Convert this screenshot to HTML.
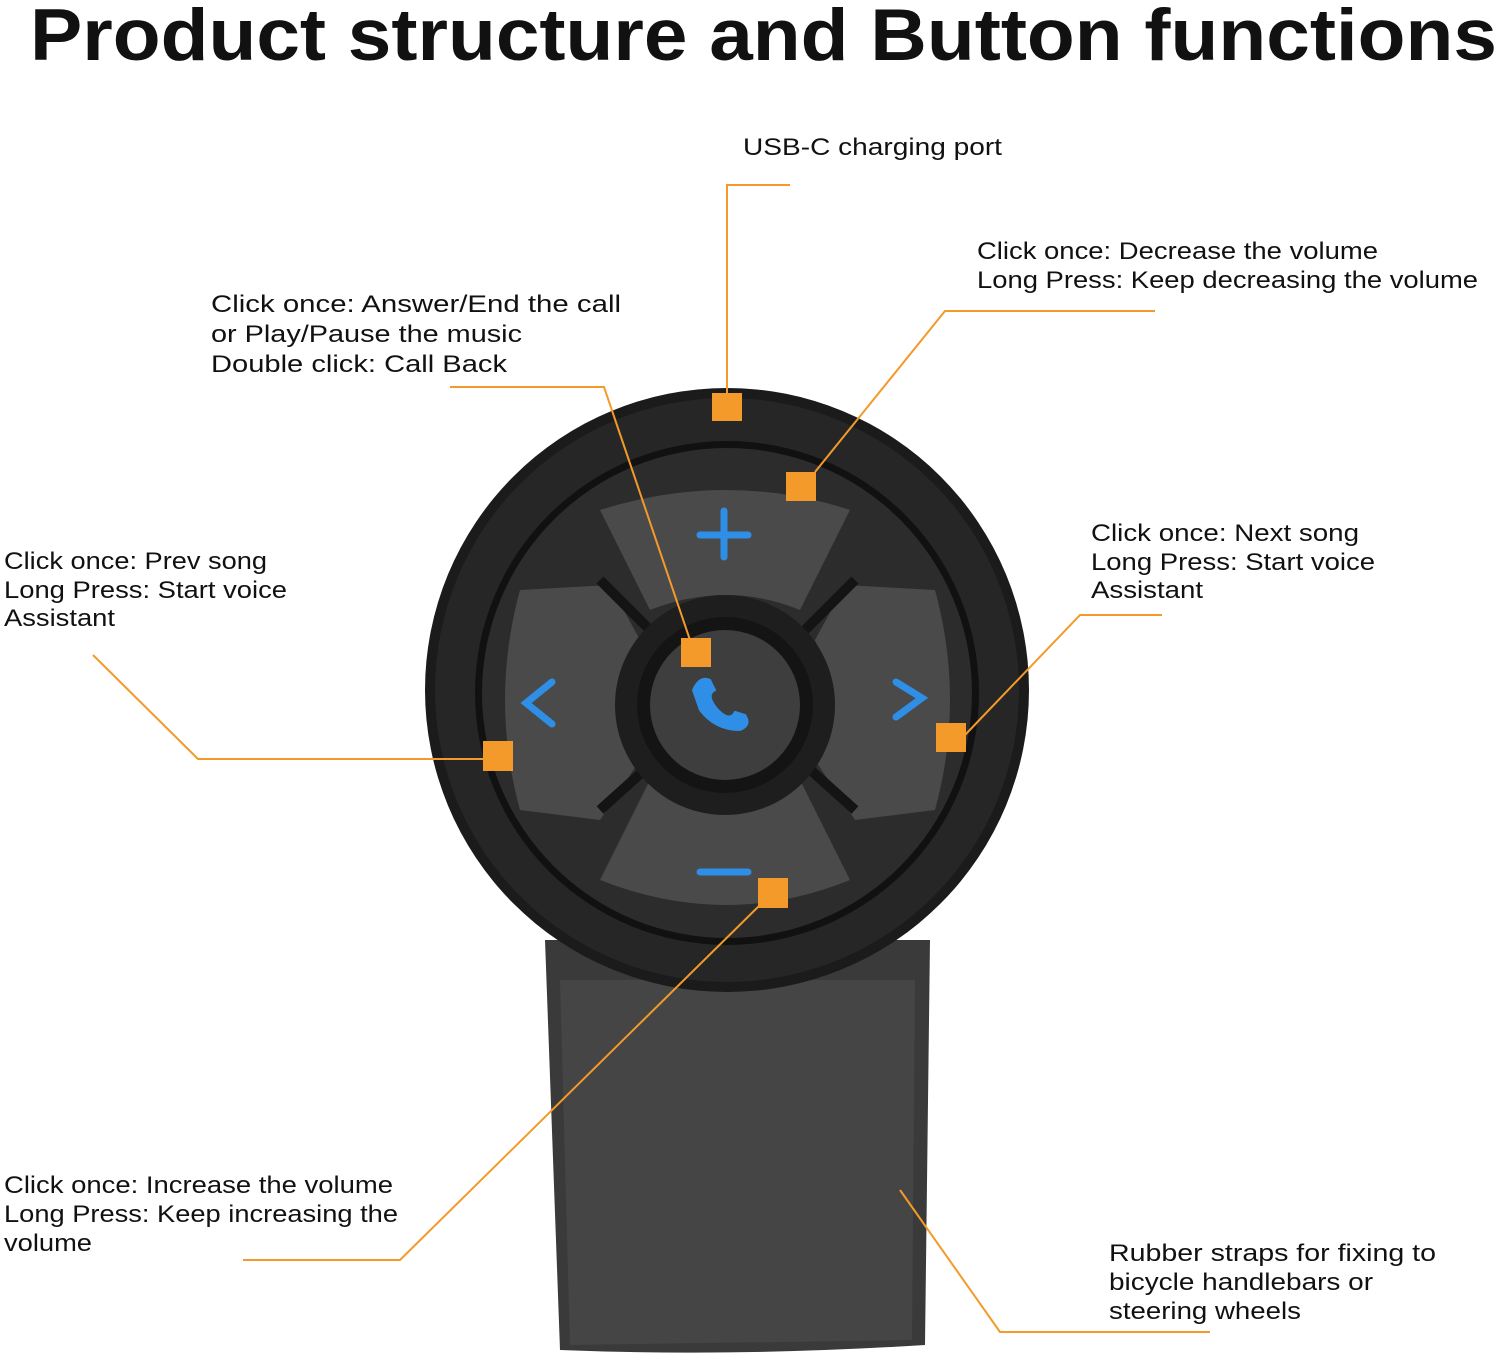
<!DOCTYPE html>
<html><head><meta charset="utf-8"><style>
html,body{margin:0;padding:0;background:#fff;}
svg{display:block}
text{font-family:"Liberation Sans",sans-serif;fill:#111}
</style></head><body>
<svg width="1500" height="1357" viewBox="0 0 1500 1357" xmlns="http://www.w3.org/2000/svg">
<rect width="1500" height="1357" fill="#fff"/>
<text x="30" y="60" font-size="73" font-weight="bold" textLength="1467" lengthAdjust="spacingAndGlyphs" fill="#000">Product structure and Button functions</text>

<!-- strap -->
<path d="M545 940 L930 940 L925 1345 Q735 1357 560 1350 Z" fill="#3a3a3a"/>
<path d="M560 980 L915 980 L912 1340 L570 1345 Z" fill="#454545"/>
<!-- device outer -->
<circle cx="727" cy="690" r="302" fill="#1b1b1b"/>
<circle cx="727" cy="690" r="292" fill="#262626"/>
<circle cx="727" cy="693" r="252" fill="#111"/>
<circle cx="727" cy="693" r="245" fill="#2c2c2c"/>
<!-- pads -->
<g fill="#4a4a4a">
<path d="M600 510 Q727 470 850 510 L800 610 Q727 580 650 610 Z"/>
<path d="M600 880 Q727 930 850 880 L800 780 Q727 810 650 780 Z"/>
<path d="M520 590 L610 585 L640 640 Q615 700 640 760 L600 820 L520 810 Q490 700 520 590Z"/>
<path d="M935 590 L845 585 L815 640 Q840 700 815 760 L855 820 L935 810 Q965 700 935 590Z"/>
</g>
<g stroke="#141414" stroke-width="10">
<line x1="600" y1="580" x2="650" y2="630"/><line x1="855" y1="580" x2="805" y2="630"/>
<line x1="600" y1="810" x2="650" y2="765"/><line x1="855" y1="810" x2="805" y2="765"/>
</g>
<circle cx="725" cy="705" r="110" fill="#1e1e1e"/>
<circle cx="725" cy="705" r="88" fill="#141414"/>
<circle cx="725" cy="705" r="75" fill="#3e3e3e"/>
<!-- icons -->
<g stroke="#2f8fe6" stroke-width="7" fill="none" stroke-linecap="round">
<line x1="700" y1="535" x2="748" y2="535"/><line x1="724" y1="511" x2="724" y2="557"/>
<line x1="700" y1="872" x2="748" y2="872"/>
<polyline points="552,682 526,703 552,724"/>
<polyline points="896,682 922,698 896,717"/>
<path d="M693 690 Q700 675 710 680 L715 690 Q705 695 718 710 Q730 722 735 712 L745 715 Q752 725 740 730 Q715 730 700 710 Z" fill="#2f8fe6" stroke-width="2"/>
</g>

<!-- leader lines -->
<g stroke="#f39a2b" stroke-width="2" fill="none">
<polyline points="790,185 727,185 727,395"/>
<polyline points="1155,311 945,311 815,472"/>
<polyline points="450,387 604,387 690,640"/>
<polyline points="93,655 198,759 484,759"/>
<polyline points="1162,615 1080,615 965,735"/>
<polyline points="243,1260 400,1260 760,905"/>
<polyline points="900,1190 1000,1332 1210,1332"/>
</g>
<g fill="#f39a2b">
<rect x="712" y="393" width="30" height="28"/>
<rect x="786" y="472" width="30" height="29"/>
<rect x="681" y="638" width="30" height="29"/>
<rect x="483" y="741" width="30" height="30"/>
<rect x="936" y="723" width="30" height="29"/>
<rect x="758" y="878" width="30" height="30"/>
</g>

<g font-size="24" lengthAdjust="spacingAndGlyphs">
<text x="743" y="155" textLength="259" lengthAdjust="spacingAndGlyphs">USB-C charging port</text>
<text x="977" y="259" textLength="401" lengthAdjust="spacingAndGlyphs">Click once: Decrease the volume</text>
<text x="977" y="288" textLength="501" lengthAdjust="spacingAndGlyphs">Long Press: Keep decreasing the volume</text>
<text x="211" y="312" textLength="410" lengthAdjust="spacingAndGlyphs">Click once: Answer/End the call</text>
<text x="211" y="342" textLength="311" lengthAdjust="spacingAndGlyphs">or Play/Pause the music</text>
<text x="211" y="372" textLength="296" lengthAdjust="spacingAndGlyphs">Double click: Call Back</text>
<text x="4" y="569" textLength="263" lengthAdjust="spacingAndGlyphs">Click once: Prev song</text>
<text x="4" y="598" textLength="283" lengthAdjust="spacingAndGlyphs">Long Press: Start voice</text>
<text x="4" y="626" textLength="111" lengthAdjust="spacingAndGlyphs">Assistant</text>
<text x="1091" y="541" textLength="268" lengthAdjust="spacingAndGlyphs">Click once: Next song</text>
<text x="1091" y="570" textLength="284" lengthAdjust="spacingAndGlyphs">Long Press: Start voice</text>
<text x="1091" y="598" textLength="112" lengthAdjust="spacingAndGlyphs">Assistant</text>
<text x="4" y="1193" textLength="389" lengthAdjust="spacingAndGlyphs">Click once: Increase the volume</text>
<text x="4" y="1222" textLength="394" lengthAdjust="spacingAndGlyphs">Long Press: Keep increasing the</text>
<text x="4" y="1251" textLength="88" lengthAdjust="spacingAndGlyphs">volume</text>
<text x="1109" y="1261" textLength="327" lengthAdjust="spacingAndGlyphs">Rubber straps for fixing to</text>
<text x="1109" y="1290" textLength="264" lengthAdjust="spacingAndGlyphs">bicycle handlebars or</text>
<text x="1109" y="1319" textLength="192" lengthAdjust="spacingAndGlyphs">steering wheels</text>
</g>
</svg>
</body></html>
